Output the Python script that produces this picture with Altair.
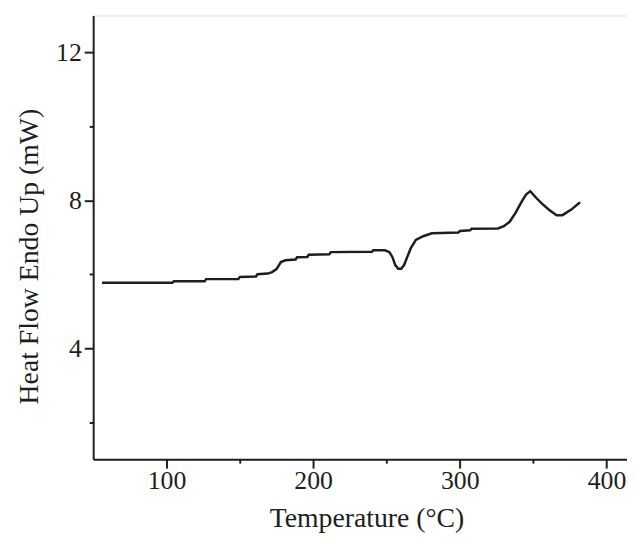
import altair as alt
import pandas as pd

temperature = [56, 104, 105, 126, 127, 149, 150, 161, 162, 169, 172, 175, 178, 181,
               188, 189, 196, 197, 211, 212, 240, 241, 249, 252, 254, 256, 258, 260,
               262, 264, 266.5, 270, 275, 281, 299, 300, 307, 308, 326, 330, 334, 338,
               342, 345, 348, 352, 356, 361, 366, 370, 376, 382]
heat_flow = [5.77, 5.77, 5.81, 5.81, 5.87, 5.87, 5.93, 5.94, 6.00, 6.02, 6.06, 6.14, 6.33, 6.38,
             6.40, 6.46, 6.47, 6.53, 6.54, 6.60, 6.61, 6.65, 6.65, 6.60, 6.47, 6.25, 6.15, 6.15,
             6.25, 6.45, 6.70, 6.93, 7.03, 7.11, 7.13, 7.17, 7.19, 7.23, 7.24, 7.30, 7.42, 7.66,
             7.95, 8.15, 8.25, 8.07, 7.91, 7.74, 7.60, 7.60, 7.75, 7.95]

x_ticks = [100, 150, 200, 250, 300, 350, 400]
y_ticks = [2, 4, 6, 8, 10, 12]

df = pd.DataFrame({"T": temperature, "H": heat_flow})

FONT = "Liberation Serif"
INK = "#1e1e1e"

xscale = alt.Scale(domain=[50, 414], nice=False, zero=False)
yscale = alt.Scale(domain=[1, 13], nice=False, zero=False)

chart = alt.Chart(df).mark_line(color=INK, strokeWidth=2.5).encode(
    x=alt.X("T:Q", scale=xscale,
            axis=alt.Axis(values=x_ticks, title="Temperature (\u00b0C)", grid=False,
                          labelExpr="datum.value % 100 === 0 ? datum.label : ''",
                          tickSize=9,
                          tickDash={"condition": {"test": "datum.value % 100 !== 0", "value": [4, 30]},
                                    "value": [12, 0]},
                          tickWidth=2, tickColor=INK,
                          domainColor=INK, domainWidth=2,
                          labelFont=FONT, labelFontSize=26, labelColor=INK, labelPadding=0,
                          titleFont=FONT, titleFontSize=28, titleFontWeight="normal",
                          titleColor=INK, titlePadding=11, titleX=276)),
    y=alt.Y("H:Q", scale=yscale,
            axis=alt.Axis(values=y_ticks, title="Heat Flow Endo Up (mW)", grid=False,
                          labelExpr="datum.value % 4 === 0 ? datum.label : ''",
                          tickSize=9,
                          tickDash={"condition": {"test": "datum.value % 4 !== 0", "value": [4, 30]},
                                    "value": [12, 0]},
                          tickWidth=2, tickColor=INK,
                          domainColor=INK, domainWidth=2,
                          labelFont=FONT, labelFontSize=26, labelColor=INK, labelPadding=3,
                          titleFont=FONT, titleFontSize=28, titleFontWeight="normal",
                          titleColor=INK, titlePadding=12, titleY=243)),
).properties(
    width=539, height=448,
    autosize=alt.AutoSizeParams(type="none"),
    padding={"left": 86, "top": 5, "right": 0, "bottom": 74},
).configure_view(stroke=None).configure(background="white")

chart.save("out.html", embed_options={"renderer": "svg", "actions": False})
